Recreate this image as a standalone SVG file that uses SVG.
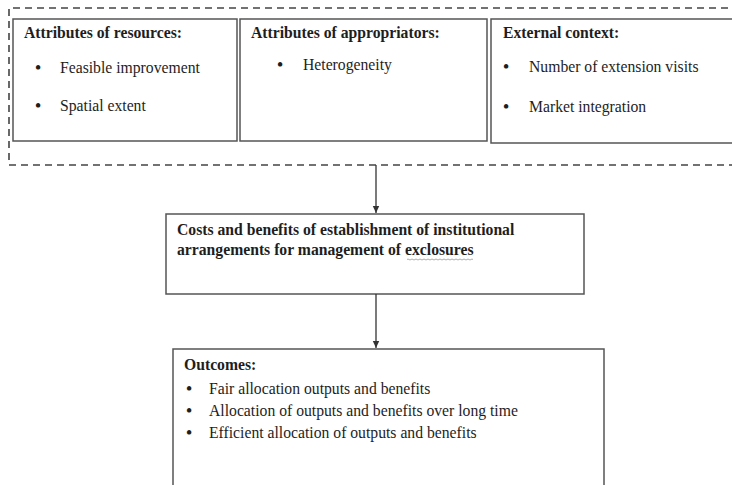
<svg xmlns="http://www.w3.org/2000/svg" width="732" height="485" viewBox="0 0 732 485">
<style>
text{font-family:"Liberation Serif","Times New Roman",serif;font-size:15.7px;fill:#1e1e1e}
.h{font-weight:bold}
.b{text-anchor:middle;font-size:19px}
.box{fill:#fff;stroke:#555;stroke-width:1.5}
.dash{fill:none;stroke:#444;stroke-width:1.6;stroke-dasharray:7 5}
.conn{stroke:#333;stroke-width:1.3;fill:none}
</style>
<defs>
<marker id="ah" markerWidth="8" markerHeight="8" refX="7" refY="4" orient="auto" markerUnits="userSpaceOnUse">
<path d="M0,0.8 L7,4 L0,7.2 Z" fill="#333"/>
</marker>
</defs>
<rect width="732" height="485" fill="#fff"/>
<path class="dash" d="M740,8 H9 V165 H740"/>
<g id="resources">
<rect class="box" x="13" y="19" width="224" height="122"/>
<text class="h" x="24" y="38">Attributes of resources:</text>
<text class="b" x="38" y="74">•</text><text x="60" y="73">Feasible improvement</text>
<text class="b" x="38" y="112">•</text><text x="60" y="111">Spatial extent</text>
</g>
<g id="appropriators">
<rect class="box" x="240" y="19" width="247" height="122"/>
<text class="h" x="251" y="38">Attributes of appropriators:</text>
<text class="b" x="280" y="71">•</text><text x="303" y="70">Heterogeneity</text>
</g>
<g id="external">
<rect class="box" x="491" y="19" width="260" height="124"/>
<text class="h" x="503" y="38">External context:</text>
<text class="b" x="506" y="73">•</text><text x="529" y="72">Number of extension visits</text>
<text class="b" x="506" y="113">•</text><text x="529" y="112">Market integration</text>
</g>
<g id="costs">
<rect class="box" x="166" y="214" width="418" height="80"/>
<text class="h" x="177" y="235">Costs and benefits of establishment of institutional</text>
<text class="h" x="177" y="255">arrangements for management of exclosures</text>
<path d="M407,259.5 q1,-1 2,0 t2,0 t2,0 t2,0 t2,0 t2,0 t2,0 t2,0 t2,0 t2,0 t2,0 t2,0 t2,0 t2,0 t2,0 t2,0 t2,0 t2,0 t2,0 t2,0 t2,0 t2,0 t2,0 t2,0 t2,0 t2,0 t2,0 t2,0 t2,0 t2,0 t2,0 t2,0 t2,0" fill="none" stroke="#999" stroke-width="0.8"/>
</g>
<g id="outcomes">
<rect class="box" x="173" y="349" width="431" height="150"/>
<text class="h" x="184" y="370">Outcomes:</text>
<text class="b" x="189" y="395">•</text><text x="209" y="394">Fair allocation outputs and benefits</text>
<text class="b" x="189" y="417">•</text><text x="209" y="416">Allocation of outputs and benefits over long time</text>
<text class="b" x="189" y="439">•</text><text x="209" y="438">Efficient allocation of outputs and benefits</text>
</g>
<g id="connectors">
<line class="conn" x1="376" y1="165" x2="376" y2="213" marker-end="url(#ah)"/>
<line class="conn" x1="376" y1="294" x2="376" y2="348" marker-end="url(#ah)"/>
</g>
</svg>
